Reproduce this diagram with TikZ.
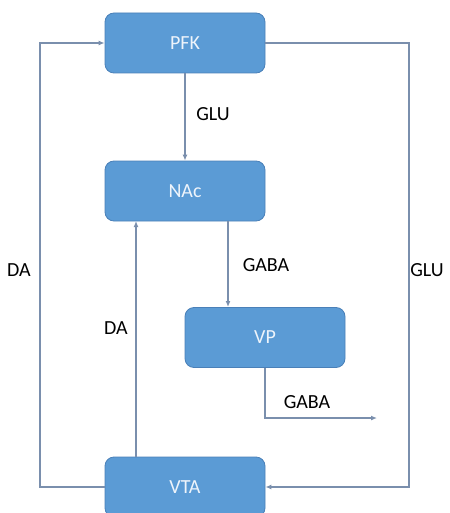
\documentclass[tikz,border=0pt]{standalone}
\usepackage{fontspec}
\setmainfont{Carlito}
\usetikzlibrary{arrows.meta}
\definecolor{boxfill}{HTML}{5B9BD5}
\definecolor{boxline}{HTML}{4A80B8}
\definecolor{conn}{HTML}{7A8FAD}
\definecolor{boxtext}{HTML}{EEF4FB}
\tikzset{
  blk/.style={draw=boxline, line width=0.8pt, fill=boxfill, rounded corners=9pt, minimum width=160pt, minimum height=60pt, inner sep=0pt, text=boxtext, font=\fontsize{20}{24}\selectfont},
  conline/.style={draw=conn, line width=1.3pt},
  arr/.style={conline, -{Latex[length=6pt,width=5pt]}},
  lbl/.style={font=\fontsize{20}{24}\selectfont, text=black, inner sep=0pt}
}
\begin{document}
\begin{tikzpicture}[x=1pt,y=-1pt]
\useasboundingbox (0,0) rectangle (449,513);
\clip (0,0) rectangle (449,513);
\node[blk] (pfk) at (185,43) {PFK};
\node[blk] (nac) at (185,191) {NAc};
\node[blk] (vp) at (265,337.5) {VP};
\node[blk] (vta) at (185,487) {VTA};
\coordinate (lt) at (40,43);
\coordinate (lb) at (40,487);
\coordinate (rt) at (409,43);
\coordinate (rb) at (409,487);
\coordinate (vpb) at (265,418);
\coordinate (vpe) at (377,418);
% PFK -> NAc
\draw[arr] (pfk.south) -- (nac.north);
\node[lbl] (glu1) at (213,114) {GLU};
% NAc -> VP
\draw[arr] (228,221) -- (228,307);
\node[lbl] (gaba1) at (266,265) {GABA};
% VP out
\draw[arr] (vp.south) -- (vpb) -- (vpe);
\node[lbl] (gaba2) at (307,402) {GABA};
% VTA -> NAc
\draw[arr] (136,457) -- (136,221);
\node[lbl] (da1) at (116,328) {DA};
% VTA -> PFK (left loop)
\draw[arr] (vta.west) -- (lb) -- (lt) -- (pfk.west);
\node[lbl] (da2) at (19,270) {DA};
% PFK -> VTA (right loop)
\draw[arr] (pfk.east) -- (rt) -- (rb) -- (vta.east);
\node[lbl] (glu2) at (427,270) {GLU};
\end{tikzpicture}
\end{document}
